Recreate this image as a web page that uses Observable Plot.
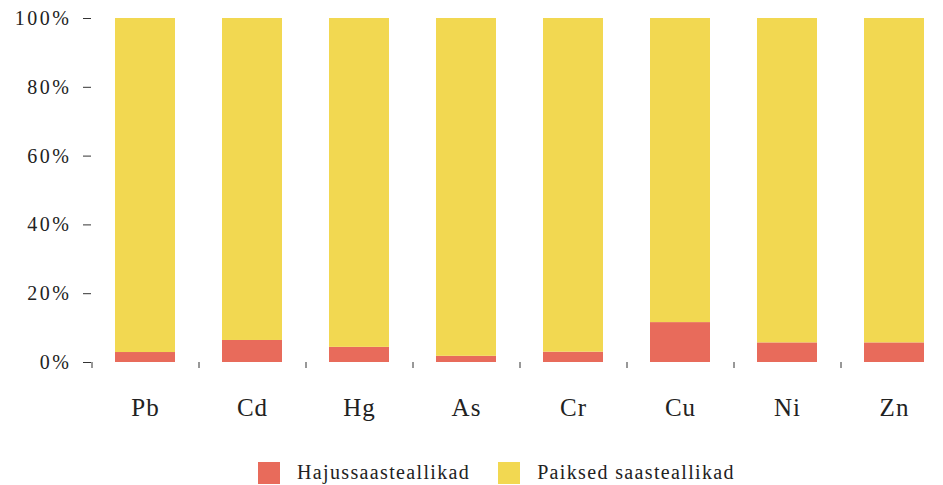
<!DOCTYPE html>
<html><head><meta charset="utf-8">
<script src="https://cdn.jsdelivr.net/npm/d3@7"></script>
<script src="https://cdn.jsdelivr.net/npm/@observablehq/plot@0.6"></script>
<style>
body{margin:0;background:#fff;font-family:"Liberation Serif",serif;color:#222;position:relative;width:943px;height:485px;overflow:hidden;}
#chart svg, #chart svg text{font-family:"Liberation Serif",serif !important;}
#chart svg g[aria-label="y-axis tick label"] text{letter-spacing:2.5px;}
#chart svg g[aria-label="x-axis tick label"] text{letter-spacing:1px;}
#legend{position:absolute;top:461px;left:258px;display:flex;align-items:center;font-size:20px;letter-spacing:1.35px;color:#222;}
#legend .item{display:flex;align-items:center;margin-right:28px;}
#legend .sw{width:22px;height:22px;margin-right:17px;}
</style></head><body><div id="chart"></div><div id="legend"></div>
<script>
const categories = ["Pb","Cd","Hg","As","Cr","Cu","Ni","Zn"];
const seriesNames = ["Hajussaasteallikad","Paiksed saasteallikad"];
const hajus = [2.9, 6.4, 4.4, 1.8, 3.0, 11.6, 5.7, 5.7];
const paiksed = [97.1, 93.6, 95.6, 98.2, 97.0, 88.4, 94.3, 94.3];
const colors = ["#e86b5b", "#f2d851"];
const yTicks = [0, 20, 40, 60, 80, 100];

const data = [];
categories.forEach((c, i) => {
  data.push({cat: c, series: seriesNames[0], value: hajus[i]});
  data.push({cat: c, series: seriesNames[1], value: paiksed[i]});
});

const W = 943, ML = 91, MR = -4;
const step = (W - ML - MR) / categories.length;

const chart = Plot.plot({
  width: W, height: 425,
  marginTop: 18, marginLeft: ML, marginRight: MR, marginBottom: 63,
  x: {domain: categories, paddingInner: 0.44, paddingOuter: 0.22},
  y: {domain: [0, 100]},
  color: {domain: seriesNames, range: colors},
  style: {fontSize: "19px", color: "#222", background: "#fff"},
  marks: [
    Plot.barY(data, {x: "cat", y: "value", fill: "series"}),
    Plot.axisY({ticks: yTicks, tickFormat: d => d + "%", tickSize: 8, tickPadding: 12, label: null, fontSize: 20, stroke: "#333"}),
    Plot.axisX({tickSize: 6, tickFormat: () => "", dx: -step / 2, label: null, stroke: "#333"}),
    Plot.axisX({tickSize: 0, tickPadding: 36, label: null, fontSize: 25})
  ]
});
document.getElementById("chart").appendChild(chart);

const legend = document.getElementById("legend");
seriesNames.forEach((n, i) => {
  const it = document.createElement("div");
  it.className = "item";
  const sw = document.createElement("div");
  sw.className = "sw";
  sw.style.background = colors[i];
  const t = document.createElement("span");
  t.textContent = n;
  it.appendChild(sw); it.appendChild(t);
  legend.appendChild(it);
});
</script></body></html>
